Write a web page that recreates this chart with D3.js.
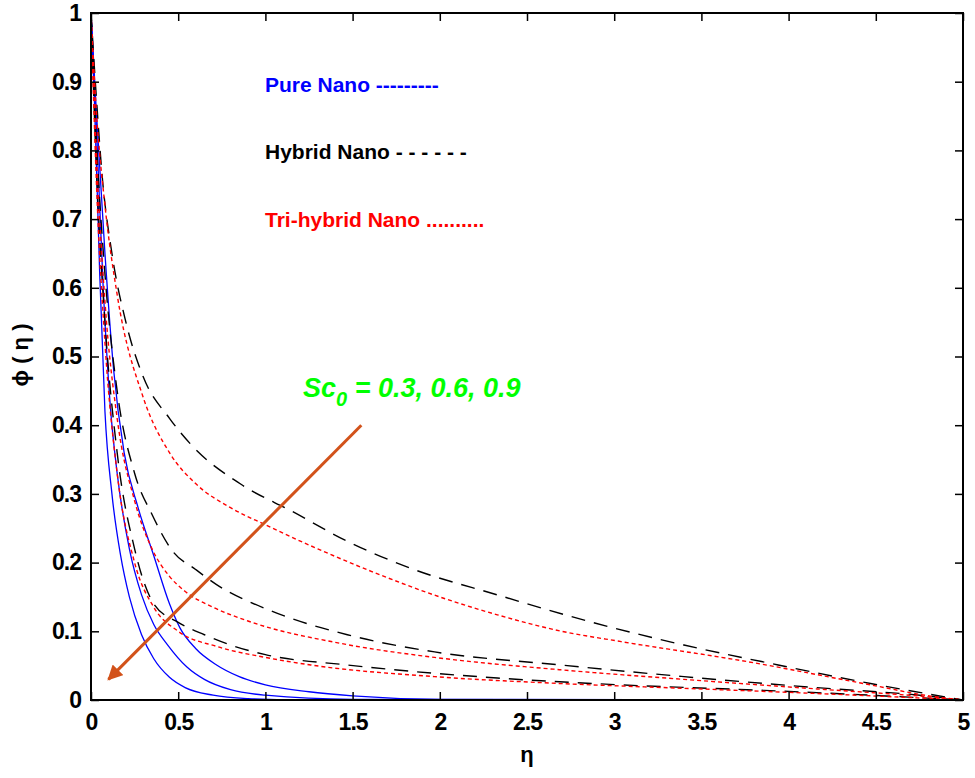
<!DOCTYPE html>
<html><head><meta charset="utf-8">
<script src="https://cdn.jsdelivr.net/npm/d3@7"></script>
<style>body{margin:0;background:#fff}text{font-family:"Liberation Sans",Arial,sans-serif}</style>
</head><body><svg id="c" width="975" height="778"></svg>
<script>
const xTicks=[0,0.5,1,1.5,2,2.5,3,3.5,4,4.5,5];
const yTicks=[0,0.1,0.2,0.3,0.4,0.5,0.6,0.7,0.8,0.9,1];
const pure1=[[0,1],[0.03,0.86],[0.08,0.65],[0.13,0.48],[0.19,0.36],[0.27,0.28],[0.36,0.21],[0.45,0.14],[0.51,0.105],[0.6,0.075],[0.72,0.051],[0.85,0.034],[1.0,0.022],[1.25,0.012],[1.5,0.006],[2,0.001],[5,0]];
const pure2=[[0,1],[0.03,0.84],[0.07,0.6],[0.11,0.43],[0.15,0.33],[0.22,0.22],[0.29,0.153],[0.36,0.11],[0.44,0.08],[0.55,0.048],[0.65,0.03],[0.8,0.015],[1.0,0.007],[1.5,0.001],[5,0]];
const pure3=[[0,1],[0.02,0.87],[0.05,0.62],[0.08,0.42],[0.12,0.3],[0.17,0.21],[0.22,0.15],[0.29,0.095],[0.36,0.06],[0.45,0.033],[0.54,0.018],[0.7,0.007],[0.9,0.002],[1.2,0],[5,0]];
const hyb1=[[0,1],[0.03,0.88],[0.065,0.76],[0.12,0.65],[0.2,0.55],[0.3,0.47],[0.45,0.41],[0.58,0.37],[0.86,0.314],[1.15,0.275],[1.47,0.231],[1.83,0.192],[2.33,0.153],[2.86,0.114],[3.4,0.08],[3.94,0.051],[4.47,0.024],[5,0]];
const hyb2=[[0,1],[0.03,0.82],[0.08,0.62],[0.15,0.45],[0.25,0.33],[0.35,0.27],[0.47,0.216],[0.6,0.19],[0.72,0.168],[1.04,0.129],[1.47,0.095],[1.97,0.07],[2.69,0.051],[3.4,0.034],[4.11,0.019],[4.83,0.005],[5,0]];
const hyb3=[[0,1],[0.03,0.78],[0.08,0.55],[0.15,0.36],[0.25,0.22],[0.36,0.14],[0.5,0.113],[0.65,0.095],[0.8,0.08],[1.0,0.066],[1.47,0.051],[2.33,0.032],[3.04,0.022],[3.76,0.015],[4.47,0.007],[5,0]];
const tri1=[[0,1],[0.03,0.86],[0.08,0.72],[0.15,0.59],[0.3,0.44],[0.45,0.36],[0.6,0.315],[0.8,0.28],[1.0,0.255],[1.3,0.22],[1.61,0.187],[2.0,0.15],[2.33,0.124],[2.7,0.1],[3.04,0.085],[3.76,0.056],[4.47,0.022],[4.83,0.005],[5,0]];
const tri2=[[0,1],[0.03,0.8],[0.08,0.58],[0.15,0.41],[0.25,0.29],[0.35,0.22],[0.45,0.18],[0.54,0.158],[0.7,0.135],[0.9,0.115],[1.44,0.082],[1.97,0.062],[2.69,0.044],[3.4,0.03],[4.11,0.017],[4.83,0.004],[5,0]];
const tri3=[[0,1],[0.03,0.76],[0.08,0.52],[0.15,0.33],[0.25,0.2],[0.36,0.135],[0.5,0.1],[0.72,0.078],[1.0,0.062],[1.26,0.051],[1.97,0.034],[2.69,0.024],[3.4,0.017],[4.11,0.01],[4.83,0.002],[5,0]];
const arrow=[[1.55,0.4],[0.1,0.03]];

const svg=d3.select("#c");
const x=d3.scaleLinear().domain([0,5]).range([91,963]);
const y=d3.scaleLinear().domain([0,1]).range([700,13]);
const line=d3.line().x(d=>x(d[0])).y(d=>y(d[1])).curve(d3.curveMonotoneX);
function draw(data,color,dash,w){svg.append("path").attr("d",line(data)).attr("fill","none").attr("stroke",color).attr("stroke-width",w).attr("stroke-dasharray",dash);}
[pure1,pure2,pure3].forEach(d=>draw(d,"#0000ff",null,1.3));
[hyb1,hyb2,hyb3].forEach(d=>draw(d,"#000","14,9",1.4));
[tri1,tri2,tri3].forEach(d=>draw(d,"#ff0000","4,3",1.4));

svg.append("rect").attr("x",91).attr("y",13).attr("width",872).attr("height",687).attr("fill","none").attr("stroke","#000").attr("stroke-width",2);
const gx=svg.append("g").attr("transform","translate(0,700)").call(d3.axisBottom(x).tickValues(xTicks).tickSize(-8).tickPadding(14).tickFormat(d3.format("")));
const gx2=svg.append("g").attr("transform","translate(0,13)").call(d3.axisTop(x).tickValues(xTicks).tickSize(-8).tickFormat(""));
const gy=svg.append("g").attr("transform","translate(91,0)").call(d3.axisLeft(y).tickValues(yTicks).tickSize(-8).tickPadding(10).tickFormat(d=>d===0||d===1?d:d3.format(".1f")(d)));
const gy2=svg.append("g").attr("transform","translate(963,0)").call(d3.axisRight(y).tickValues(yTicks).tickSize(-8).tickFormat(""));
[gx,gx2,gy,gy2].forEach(g=>{g.select(".domain").remove();g.selectAll("line").attr("stroke","#000").attr("stroke-width",1.5);});
[gx,gy].forEach(g=>g.selectAll("text").attr("fill","#000").style("font-size","23px").style("font-weight","bold").style("letter-spacing","-1px"));

svg.append("text").attr("x",527).attr("y",762).attr("text-anchor","middle").style("font-size","22px").style("font-weight","bold").text("η");
svg.append("text").attr("transform","translate(28,355) rotate(-90)").attr("text-anchor","middle").style("font-size","22px").style("font-weight","bold").text("ϕ ( η )");

const leg=[["Pure Nano ---------","#0000ff",92],["Hybrid Nano - - - - - -","#000",159],["Tri-hybrid Nano ..........","#ff0000",227]];
leg.forEach(l=>svg.append("text").attr("x",265).attr("y",l[2]).attr("fill",l[1]).style("font-size","21px").style("font-weight","bold").text(l[0]));

const t=svg.append("text").attr("x",303).attr("y",397).attr("fill","#00ff00").style("font-size","27px").style("font-weight","bold").style("font-style","italic");
t.append("tspan").text("Sc");
t.append("tspan").attr("dy",9).style("font-size","20px").text("0");
t.append("tspan").attr("dy",-9).text(" = 0.3, 0.6, 0.9");

svg.append("defs").append("marker").attr("id","ah").attr("viewBox","0 0 10 10").attr("refX",9).attr("refY",5).attr("markerWidth",5).attr("markerHeight",5).attr("orient","auto")
 .append("path").attr("d","M0,0L10,5L0,10z").attr("fill","#d2521a");
svg.append("line").attr("x1",x(arrow[0][0])).attr("y1",y(arrow[0][1])).attr("x2",x(arrow[1][0])).attr("y2",y(arrow[1][1])).attr("stroke","#d2521a").attr("stroke-width",3).attr("marker-end","url(#ah)");
</script></body></html>
